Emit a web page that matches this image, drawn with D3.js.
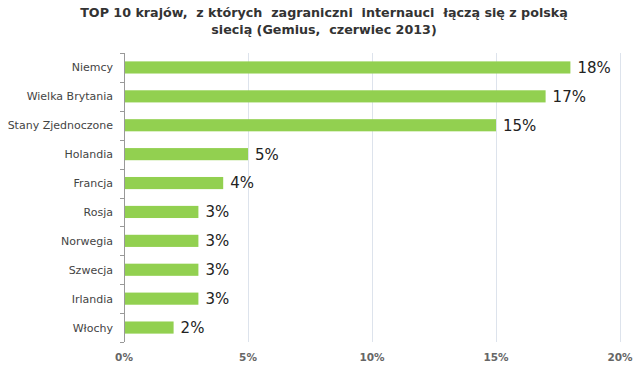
<!DOCTYPE html>
<html><head><meta charset="utf-8">
<script src="https://cdn.jsdelivr.net/npm/d3@7"></script>
<style>body{margin:0;background:#fff}svg{display:block}</style>
</head><body>
<svg id="c" width="640" height="375"></svg>
<script>
const categories = ["Niemcy","Wielka Brytania","Stany Zjednoczone","Holandia","Francja","Rosja","Norwegia","Szwecja","Irlandia","Włochy"];
const values = [18,17,15,5,4,3,3,3,3,2];
const ticks = [0,5,10,15,20];
const titleLines = ["TOP 10 krajów,  z których  zagraniczni  internauci  łączą się z polską","siecią (Gemius,  czerwiec 2013)"];

const svg = d3.select("#c");
const mLeft = 124, mRight = 620, mTop = 53, mBottom = 342;
const x = d3.scaleLinear().domain([0,20]).range([mLeft,mRight]);
const y = d3.scaleBand().domain(categories).range([mTop,mBottom]).paddingInner(0.58).paddingOuter(0.29);

// gridlines
svg.append("g").selectAll("line").data(ticks.slice(1)).join("line")
  .attr("x1",d=>x(d)+0.5).attr("x2",d=>x(d)+0.5).attr("y1",mTop).attr("y2",mBottom)
  .attr("stroke","#dde3ec").attr("stroke-width",1);

// bars
svg.append("g").selectAll("rect").data(values).join("rect")
  .attr("x",x(0)).attr("y",(d,i)=>y(categories[i]))
  .attr("width",d=>x(d)-x(0)).attr("height",y.bandwidth())
  .attr("fill","#92d050");

// value labels
svg.append("g").selectAll("text").data(values).join("text")
  .attr("x",d=>x(d)+7).attr("y",(d,i)=>y(categories[i])+y.bandwidth()/2)
  .attr("dy","0.36em").attr("font-family","DejaVu Sans, Verdana, sans-serif")
  .attr("font-size",15).attr("fill","#222").text(d=>d+"%");

// y axis line and ticks
const ya = svg.append("g");
ya.append("line").attr("x1",mLeft+0.5).attr("x2",mLeft+0.5).attr("y1",mTop).attr("y2",mBottom).attr("stroke","#999");
const bounds = d3.range(categories.length+1).map(i=>mTop+i*(mBottom-mTop)/categories.length);
ya.selectAll("line.t").data(bounds).join("line").attr("class","t")
  .attr("x1",mLeft-4).attr("x2",mLeft).attr("y1",d=>Math.round(d)+0.5).attr("y2",d=>Math.round(d)+0.5).attr("stroke","#999");
ya.selectAll("text").data(categories).join("text")
  .attr("x",113).attr("y",d=>y(d)+y.bandwidth()/2).attr("dy","0.36em")
  .attr("text-anchor","end").attr("font-family","DejaVu Sans, Verdana, sans-serif")
  .attr("font-size",11).attr("fill","#444").text(d=>d);

// x tick labels
svg.append("g").selectAll("text").data(ticks).join("text")
  .attr("x",d=>x(d)).attr("y",361).attr("text-anchor","middle")
  .attr("font-family","DejaVu Sans, Verdana, sans-serif").attr("font-weight","bold")
  .attr("font-size",10.5).attr("fill","#666").text(d=>d+"%");

// title
svg.append("g").selectAll("text").data(titleLines).join("text")
  .attr("x",324).attr("y",(d,i)=>17+i*17).attr("text-anchor","middle")
  .attr("font-family","DejaVu Sans, Verdana, sans-serif").attr("font-weight","bold")
  .attr("font-size",12.7).attr("fill","#333").style("white-space","pre").text(d=>d);
</script>
</body></html>
